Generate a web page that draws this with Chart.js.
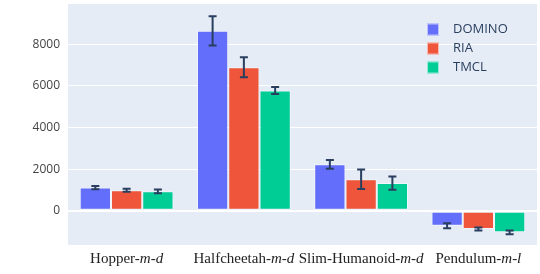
<!DOCTYPE html>
<html lang="en">

<head>
  <meta charset="UTF-8">
  <title>DOMINO vs RIA vs TMCL</title>
  <script src="https://cdn.jsdelivr.net/npm/chart.js@4.4.0/dist/chart.umd.min.js"></script>
  <style>
    body {
      margin: 0;
      background: #fff;
    }

    .chart-container {
      width: 540px;
      height: 274px;
    }
  </style>
</head>

<body>
  <div class="chart-container">
    <canvas id="chart"></canvas>
  </div>

  <script>
    const envNames = ['Hopper-', 'Halfcheetah-', 'Slim-Humanoid-', 'Pendulum-'];
    const envSuffix = ['m-d', 'm-d', 'm-d', 'm-l'];

    const seriesNames = ['DOMINO', 'RIA', 'TMCL'];
    const seriesColors = ['#636EFA', '#EF553B', '#00CC96'];

    const dominoMean = [1110, 8650, 2230, -720];
    const dominoErr = [80, 700, 210, 120];
    const riaMean = [980, 6900, 1510, -880];
    const riaErr = [70, 480, 470, 70];
    const tmclMean = [930, 5780, 1330, -1040];
    const tmclErr = [90, 170, 320, 90];

    const yTicks = [0, 2000, 4000, 6000, 8000];

    const means = [dominoMean, riaMean, tmclMean];
    const errs = [dominoErr, riaErr, tmclErr];

    // plot background + error bars + x labels + legend
    const extras = {
      id: 'extras',
      beforeDraw(chart) {
        const { ctx, chartArea: a } = chart;
        ctx.save();
        ctx.fillStyle = '#E5ECF6';
        ctx.fillRect(a.left, a.top, a.right - a.left, a.bottom - a.top);
        ctx.restore();
      },
      afterDatasetsDraw(chart) {
        const { ctx } = chart;
        const y = chart.scales.y;
        ctx.save();
        ctx.strokeStyle = '#2a3f5f';
        ctx.lineWidth = 2;
        chart.data.datasets.forEach((ds, i) => {
          chart.getDatasetMeta(i).data.forEach((bar, j) => {
            const top = y.getPixelForValue(ds.data[j] + errs[i][j]);
            const bot = y.getPixelForValue(ds.data[j] - errs[i][j]);
            ctx.beginPath();
            ctx.moveTo(bar.x, top);
            ctx.lineTo(bar.x, bot);
            ctx.moveTo(bar.x - 4, top);
            ctx.lineTo(bar.x + 4, top);
            ctx.moveTo(bar.x - 4, bot);
            ctx.lineTo(bar.x + 4, bot);
            ctx.stroke();
          });
        });
        ctx.restore();
      },
      afterDraw(chart) {
        const { ctx, chartArea: a } = chart;
        const x = chart.scales.x;
        ctx.save();
        ctx.fillStyle = '#222';
        ctx.textBaseline = 'middle';
        const normal = '15px "Liberation Serif", "Times New Roman", serif';
        const italic = 'italic 15px "Liberation Serif", "Times New Roman", serif';
        envNames.forEach((name, i) => {
          ctx.font = normal;
          const w1 = ctx.measureText(name).width;
          ctx.font = italic;
          const w2 = ctx.measureText(envSuffix[i]).width;
          const cx = x.getPixelForValue(i);
          const start = cx - (w1 + w2) / 2;
          ctx.textAlign = 'left';
          ctx.font = normal;
          ctx.fillText(name, start, a.bottom + 14);
          ctx.font = italic;
          ctx.fillText(envSuffix[i], start + w1, a.bottom + 14);
        });

        // legend
        ctx.font = '13px "Open Sans", Arial, sans-serif';
        seriesNames.forEach((name, i) => {
          const ly = 29.5 + i * 19;
          ctx.fillStyle = seriesColors[i];
          ctx.fillRect(427, ly - 6, 12, 12);
          ctx.strokeStyle = 'rgba(255,255,255,0.6)';
          ctx.lineWidth = 1;
          ctx.strokeRect(427.5, ly - 5.5, 11, 11);
          ctx.fillStyle = '#2a3f5f';
          ctx.fillText(name, 453, ly);
        });
        ctx.restore();
      }
    };

    new Chart(document.getElementById('chart'), {
      type: 'bar',
      data: {
        labels: envNames.map((n, i) => n + envSuffix[i]),
        datasets: seriesNames.map((name, i) => ({
          label: name,
          data: means[i],
          backgroundColor: seriesColors[i],
          borderColor: 'rgba(255,255,255,0.5)',
          borderWidth: 1,
          borderSkipped: false,
          barPercentage: 1.0,
          categoryPercentage: 0.8
        }))
      },
      options: {
        responsive: true,
        maintainAspectRatio: false,
        animation: false,
        layout: { padding: { top: 4, right: 3, left: 0, bottom: 0 } },
        plugins: {
          legend: { display: false },
          tooltip: { enabled: false }
        },
        scales: {
          x: {
            grid: { display: false },
            border: { display: false },
            ticks: { display: false },
            afterFit(scale) {
              scale.height = 29;
              scale.paddingLeft = 0;
              scale.paddingRight = 0;
            }
          },
          y: {
            min: -1650,
            max: 9940,
            afterBuildTicks(scale) {
              scale.ticks = yTicks.map(v => ({ value: v }));
            },
            afterFit(scale) {
              scale.width = 68;
              scale.paddingTop = 0;
              scale.paddingBottom = 0;
            },
            grid: {
              color: '#ffffff',
              lineWidth: c => (c.tick && c.tick.value === 0 ? 2 : 1),
              drawTicks: false
            },
            border: { display: false },
            ticks: {
              color: '#444',
              padding: 8,
              font: { family: '"Open Sans", Arial, sans-serif', size: 12 },
              callback: v => String(v)
            }
          }
        }
      },
      plugins: [extras]
    });
  </script>
</body>

</html>
